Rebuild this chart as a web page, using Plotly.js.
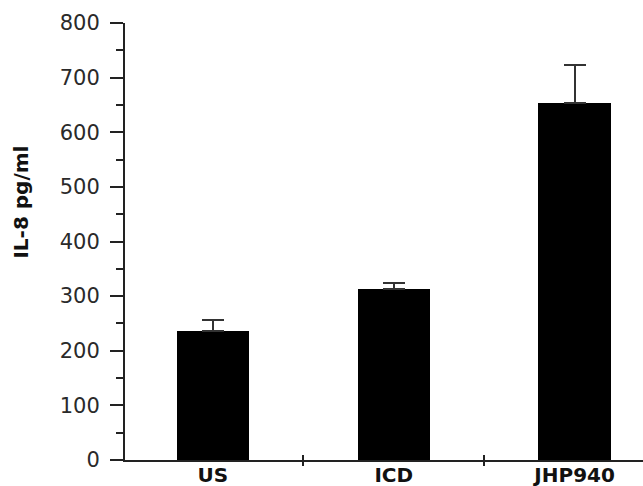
<!DOCTYPE html>
<html>
<head>
<meta charset="utf-8">
<script src="https://cdn.plot.ly/plotly-3.0.1.min.js"></script>
<style>html,body{margin:0;padding:0;background:#fff;}#chart{width:643px;height:486px;}</style>
</head>
<body>
<div id="chart"></div>
<script>
const categories = ["US", "ICD", "JHP940"];
const values = [237, 313, 654];
const errors = [20, 11, 69];
const yTickVals = [0, 100, 200, 300, 400, 500, 600, 700, 800];

const axisColor = "#222";
const trace = {
  type: "bar",
  x: [0, 1, 2],
  y: values,
  width: 0.40,
  marker: {color: "#000", line: {width: 0}},
  error_y: {type: "data", symmetric: false, array: errors, arrayminus: [0, 0, 0],
            color: "#333", thickness: 2, width: 11},
  hoverinfo: "skip"
};
const layout = {
  width: 643, height: 486,
  margin: {l: 125, r: 0, t: 23, b: 26},
  paper_bgcolor: "#fff", plot_bgcolor: "#fff",
  showlegend: false,
  bargap: 0,
  xaxis: {
    range: [-0.486, 2.378],
    tickmode: "array", tickvals: [0, 1, 2], ticktext: categories,
    ticks: "",
    ticklabelstandoff: -4,
    showline: true, linecolor: axisColor, linewidth: 2,
    showgrid: false, zeroline: false,
    tickfont: {family: "DejaVu Sans", size: 20, color: "#111", weight: "bold"},
    fixedrange: true
  },
  xaxis2: {
    overlaying: "x", matches: "x", anchor: "y",
    range: [-0.486, 2.378],
    tickmode: "array", tickvals: [0.5, 1.5], ticktext: ["", ""],
    ticks: "inside", ticklen: 5, tickwidth: 2, tickcolor: axisColor,
    showline: false, showgrid: false, zeroline: false, showticklabels: false
  },
  xaxis3: {
    overlaying: "x", matches: "x", anchor: "y",
    range: [-0.486, 2.378],
    tickmode: "array", tickvals: [0.5, 1.5], ticktext: ["", ""],
    ticks: "outside", ticklen: 5, tickwidth: 2, tickcolor: axisColor,
    showline: false, showgrid: false, zeroline: false, showticklabels: false
  },
  yaxis: {
    range: [0, 800],
    tickmode: "array", tickvals: yTickVals,
    ticks: "outside", ticklen: 13, tickwidth: 2, tickcolor: axisColor,
    minor: {dtick: 50, ticks: "outside", ticklen: 7, tickwidth: 2, tickcolor: axisColor, showgrid: false},
    ticklabelstandoff: 6,
    showline: true, linecolor: axisColor, linewidth: 2,
    showgrid: false, zeroline: false,
    tickfont: {family: "DejaVu Sans", size: 21, color: "#2a2a2a"},
    fixedrange: true
  },
  annotations: [{
    text: "<b>IL-8 pg/ml</b>", xref: "paper", yref: "paper",
    x: -0.2, y: 0.59, xanchor: "center", yanchor: "middle",
    textangle: -90, showarrow: false,
    font: {family: "DejaVu Sans", size: 20, color: "#111"}
  }]
};
const trace2 = {type: "bar", x: [0], y: [0], xaxis: "x2", yaxis: "y", marker: {color: "rgba(0,0,0,0)"}, hoverinfo: "skip"};
const trace3 = {type: "bar", x: [0], y: [0], xaxis: "x3", yaxis: "y", marker: {color: "rgba(0,0,0,0)"}, hoverinfo: "skip"};
Plotly.newPlot("chart", [trace, trace2, trace3], layout, {displayModeBar: false, staticPlot: true});
</script>
</body>
</html>
